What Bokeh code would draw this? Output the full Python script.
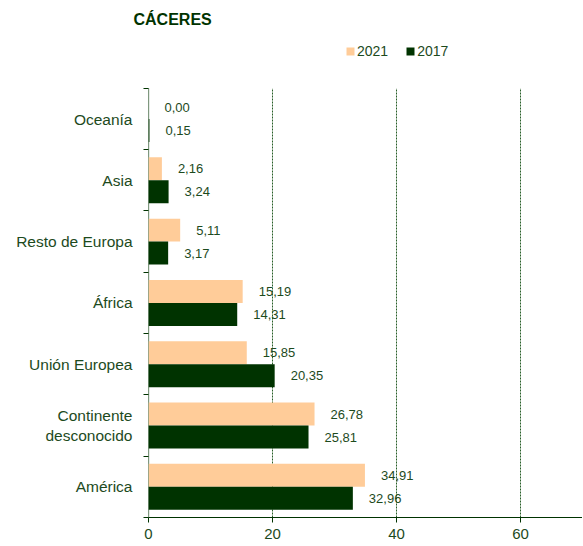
from bokeh.plotting import figure
from bokeh.models import ColumnDataSource, FixedTicker, Legend, LegendItem, LabelSet, Range1d, Title
from bokeh.transform import dodge
from bokeh.core.properties import value
from bokeh.embed import file_html
from bokeh.resources import INLINE

categories = ["América", "Continente\ndesconocido", "Unión Europea", "África",
              "Resto de Europa", "Asia", "Oceanía"]
values_2021 = [34.91, 26.78, 15.85, 15.19, 5.11, 2.16, 0.00]
values_2017 = [32.96, 25.81, 20.35, 14.31, 3.17, 3.24, 0.15]
x_ticks = [0, 20, 40, 60]

TXT = "#1d4a1d"
DARK = "#003300"
LIGHT = "#ffcc99"
FONT = "Liberation Sans"

n = len(categories)
ypos = [i + 0.5 for i in range(n)]
fmt = lambda v: f"{v:.2f}".replace(".", ",")
src = ColumnDataSource(dict(
    y=ypos, v21=values_2021, v17=values_2017,
    l21=[fmt(v) for v in values_2021], l17=[fmt(v) for v in values_2017],
))

p = figure(width=582, height=546, output_backend="svg", toolbar_location=None,
           x_range=Range1d(0, 70), y_range=Range1d(0, n + 0.96),
           min_border_left=148, min_border_right=0, min_border_top=29, min_border_bottom=29)
p.outline_line_color = None
p.background_fill_color = "white"

# dashed vertical gridlines and the y axis line, only over the category area
grid_x = [t for t in x_ticks if t > 0]
p.segment(x0=grid_x, y0=[0] * len(grid_x), x1=grid_x, y1=[n] * len(grid_x),
          line_color="#285e28", line_dash="2 1", line_width=1)
p.segment(x0=[0], y0=[0], x1=[0], y1=[n], line_color=DARK, line_width=1.2)

bh = 0.375
r21 = p.hbar(y=dodge("y", bh / 2, range=p.y_range), right="v21", left=0, height=bh,
             source=src, fill_color=LIGHT, line_color=None)
r17 = p.hbar(y=dodge("y", -bh / 2, range=p.y_range), right="v17", left=0, height=bh,
             source=src, fill_color=DARK, line_color=None)

for col, lab, off in (("v21", "l21", bh / 2), ("v17", "l17", -bh / 2)):
    p.add_layout(LabelSet(x=col, y=dodge("y", off, range=p.y_range), text=lab, source=src,
                          x_offset=16, text_baseline="middle", text_font=value(FONT),
                          text_font_size="13px", text_color=TXT))

# axes
p.xaxis.ticker = FixedTicker(ticks=x_ticks, minor_ticks=[])
p.xaxis.axis_line_color = DARK
p.xaxis.major_tick_line_color = DARK
p.xaxis.major_tick_in = 0
p.xaxis.major_tick_out = 5
p.xaxis.minor_tick_line_color = None
p.xaxis.major_label_standoff = 6
p.xaxis.axis_label_standoff = 0
p.xaxis.major_label_text_font = FONT
p.xaxis.major_label_text_font_size = "15px"
p.xaxis.major_label_text_color = TXT

p.yaxis.ticker = FixedTicker(ticks=ypos, minor_ticks=list(range(n + 1)))
p.yaxis.major_label_overrides = {y: c for y, c in zip(ypos, categories)}
p.yaxis.axis_line_color = None
p.yaxis.major_tick_line_color = None
p.yaxis.major_tick_out = 0
p.yaxis.minor_tick_line_color = DARK
p.yaxis.minor_tick_in = 0
p.yaxis.minor_tick_out = 5
p.yaxis.major_label_text_font = FONT
p.yaxis.major_label_text_font_size = "15.5px"
p.yaxis.major_label_text_color = TXT
p.yaxis.major_label_standoff = 11

p.ygrid.grid_line_color = None
p.xgrid.grid_line_color = None

legend = Legend(items=[LegendItem(label="2021", renderers=[r21]),
                       LegendItem(label="2017", renderers=[r17])],
                orientation="horizontal", location=(197, 458),
                label_text_font=FONT, label_text_font_size="14px", label_text_color=TXT,
                glyph_width=10, glyph_height=10, label_height=14, label_standoff=2, spacing=17,
                padding=0, margin=0, border_line_color=None, background_fill_alpha=0)
p.add_layout(legend, "center")

p.title = Title(text="CÁCERES", text_font=FONT, text_font_size="16px", text_font_style="bold",
                text_color=DARK, align="left", offset=-15, standoff=4)

open("out.html", "w").write(file_html(p, INLINE))
